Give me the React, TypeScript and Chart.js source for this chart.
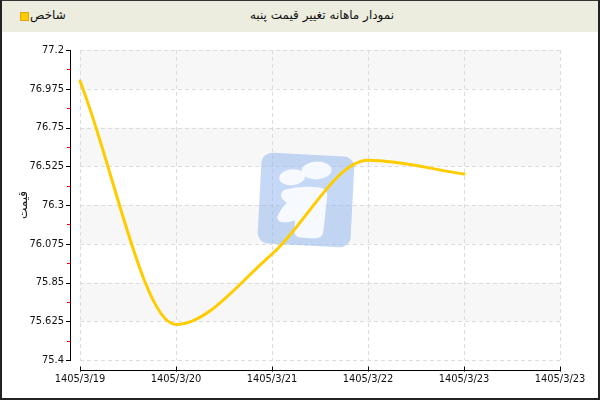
import React, { useEffect, useRef } from "react";
import { Chart, registerables } from "chart.js";
Chart.register(...registerables);

const categories = ["1405/3/19", "1405/3/20", "1405/3/21", "1405/3/22", "1405/3/23", "1405/3/23"];
const priceValues = [77.02, 75.606, 76.015, 76.56, 76.48];
const yTickValues = [75.4, 75.625, 75.85, 76.075, 76.3, 76.525, 76.75, 76.975, 77.2];
const chartTitle = "نمودار ماهانه تغییر قیمت پنبه";
const seriesName = "شاخص";
const yAxisTitle = "قیمت";

const LABEL_FONT = "'DejaVu Sans Condensed', 'DejaVu Sans', sans-serif";
const FA_FONT = "'DejaVu Sans', sans-serif";

const backgroundPlugin = {
  id: "bgDecor",
  beforeDatasetsDraw(chart: any) {
    const { ctx, chartArea, scales } = chart;
    const y = scales.y;
    const x = scales.x;
    const { left, right, top, bottom } = chartArea;
    ctx.save();
    // alternating bands
    const desc = [...yTickValues].sort((a, b) => b - a);
    for (let i = 0; i < desc.length - 1; i++) {
      if (i % 2 === 0) {
        const y1 = y.getPixelForValue(desc[i]);
        const y2 = y.getPixelForValue(desc[i + 1]);
        ctx.fillStyle = "#F7F7F7";
        ctx.fillRect(left, y1, right - left, y2 - y1);
      }
    }
    // dashed grid
    ctx.strokeStyle = "#DCDCDC";
    ctx.lineWidth = 1;
    ctx.setLineDash([4, 3]);
    for (const v of yTickValues) {
      const py = Math.round(y.getPixelForValue(v)) + 0.5;
      ctx.beginPath();
      ctx.moveTo(left, py);
      ctx.lineTo(right, py);
      ctx.stroke();
    }
    for (let i = 0; i < categories.length; i++) {
      const px = Math.round(x.getPixelForTick(i)) + 0.5;
      ctx.beginPath();
      ctx.moveTo(px, top);
      ctx.lineTo(px, bottom);
      ctx.stroke();
    }
    ctx.setLineDash([]);

    // watermark logo
    const cx = (left + right) / 2 - 14;
    const cy = (top + bottom) / 2 - 5;
    ctx.translate(cx, cy);
    ctx.rotate((3 * Math.PI) / 180);
    ctx.fillStyle = "rgba(140, 178, 238, 0.5)";
    const w = 93, h = 91, r = 11;
    ctx.beginPath();
    ctx.roundRect(-w / 2, -h / 2, w, h, r);
    ctx.fill();
    ctx.fillStyle = "rgba(255, 255, 255, 0.85)";
    ctx.beginPath();
    ctx.ellipse(-15, -22, 13, 8, -0.15, 0, Math.PI * 2);
    ctx.fill();
    ctx.beginPath();
    ctx.ellipse(9, -30, 15, 9, -0.1, 0, Math.PI * 2);
    ctx.fill();
    ctx.beginPath();
    ctx.moveTo(-22, -9);
    ctx.quadraticCurveTo(-5, -15, 14, -13);
    ctx.quadraticCurveTo(21, -12, 21, -5);
    ctx.lineTo(19, 31);
    ctx.quadraticCurveTo(18, 38, 9, 38);
    ctx.lineTo(-2, 38);
    ctx.quadraticCurveTo(-10, 38, -10, 31);
    ctx.lineTo(-10, 21);
    ctx.quadraticCurveTo(-26, 27, -28, 19);
    ctx.quadraticCurveTo(-24, 8, -19, 4);
    ctx.quadraticCurveTo(-30, -3, -22, -9);
    ctx.closePath();
    ctx.fill();
    ctx.restore();
  },
  afterDraw(chart: any) {
    const { ctx, chartArea, scales } = chart;
    const y = scales.y;
    const x = scales.x;
    const { left, right, top, bottom } = chartArea;
    ctx.save();
    ctx.lineWidth = 1;
    // y axis line
    const ax = left - 10 + 0.5;
    ctx.strokeStyle = "#000000";
    ctx.beginPath();
    ctx.moveTo(ax, top);
    ctx.lineTo(ax, bottom + 1);
    ctx.stroke();
    for (let i = 0; i < yTickValues.length; i++) {
      const py = Math.round(y.getPixelForValue(yTickValues[i])) + 0.5;
      ctx.strokeStyle = "#000000";
      ctx.beginPath();
      ctx.moveTo(ax - 4.5, py);
      ctx.lineTo(ax, py);
      ctx.stroke();
      if (i < yTickValues.length - 1) {
        const mid = (yTickValues[i] + yTickValues[i + 1]) / 2;
        const pm = Math.round(y.getPixelForValue(mid)) + 0.5;
        ctx.strokeStyle = "#FF0000";
        ctx.beginPath();
        ctx.moveTo(ax - 3.5, pm);
        ctx.lineTo(ax, pm);
        ctx.stroke();
      }
    }
    // x axis line
    const ay = bottom + 10 + 0.5;
    ctx.strokeStyle = "#000000";
    ctx.beginPath();
    ctx.moveTo(left, ay);
    ctx.lineTo(right + 1, ay);
    ctx.stroke();
    for (let i = 0; i < categories.length; i++) {
      const px = Math.round(x.getPixelForTick(i)) + 0.5;
      ctx.beginPath();
      ctx.moveTo(px, ay - 4);
      ctx.lineTo(px, ay + 1);
      ctx.stroke();
    }
    ctx.restore();
  },
};

export default function App() {
  const canvasRef = useRef<HTMLCanvasElement | null>(null);

  useEffect(() => {
    if (!canvasRef.current) return;
    const chart = new Chart(canvasRef.current, {
      type: "line",
      data: {
        labels: categories,
        datasets: [
          {
            label: seriesName,
            data: priceValues,
            borderColor: "#FFCC00",
            backgroundColor: "#FFCC00",
            borderWidth: 3,
            pointRadius: 0,
            pointHoverRadius: 0,
            cubicInterpolationMode: "monotone",
            fill: false,
            borderCapStyle: "round",
            borderJoinStyle: "round",
          },
        ],
      },
      options: {
        animation: false,
        responsive: false,
        maintainAspectRatio: false,
        layout: { padding: { top: 50, right: 40, left: 0, bottom: 0 } },
        plugins: {
          legend: { display: false },
          title: { display: false },
          tooltip: { enabled: false },
        },
        scales: {
          x: {
            type: "category",
            offset: false,
            grid: { display: false, drawTicks: false },
            border: { display: false },
            ticks: {
              color: "#111111",
              font: { family: LABEL_FONT, size: 11 },
              padding: 13,
              maxRotation: 0,
              autoSkip: false,
            },
            afterFit(scale: any) {
              scale.height = 40;
            },
          },
          y: {
            min: 75.4,
            max: 77.2,
            grid: { display: false, drawTicks: false },
            border: { display: false },
            afterBuildTicks(scale: any) {
              scale.ticks = yTickValues.map((v) => ({ value: v }));
            },
            ticks: {
              color: "#111111",
              font: { family: LABEL_FONT, size: 11 },
              padding: 16,
              callback: (v: any) => String(v),
            },
            title: {
              display: true,
              text: yAxisTitle,
              color: "#111111",
              font: { family: FA_FONT, size: 12 },
              padding: { top: 17, bottom: 0 },
            },
            afterFit(scale: any) {
              scale.width = 80;
            },
          },
        },
      },
      plugins: [backgroundPlugin],
    });
    return () => chart.destroy();
  }, []);

  return (
    <div
      style={{
        position: "fixed",
        left: 0,
        top: 0,
        width: 600,
        height: 400,
        background: "#FFFFFF",
        overflow: "hidden",
      }}
    >
      <canvas
        ref={canvasRef}
        width={600}
        height={400}
        style={{ position: "absolute", left: 0, top: 0, width: 600, height: 400 }}
      />
      <div
        style={{
          position: "absolute",
          left: 0,
          top: 0,
          width: 600,
          height: 32,
          background: "#EDEDDF",
          fontFamily: FA_FONT,
          fontSize: 12,
          color: "#111111",
        }}
      >
        <div
          dir="rtl"
          style={{
            position: "absolute",
            left: 200,
            width: 244,
            top: 8,
            textAlign: "center",
            whiteSpace: "nowrap",
          }}
        >
          {chartTitle}
        </div>
        <div
          style={{
            position: "absolute",
            left: 20,
            top: 8,
            display: "flex",
            alignItems: "center",
            gap: 1,
          }}
        >
          <span
            style={{
              display: "inline-block",
              width: 7,
              height: 7,
              background: "#FFCC00",
              border: "0.5px solid #E0A800",
              marginTop: 2,
            }}
          />
          <span dir="rtl">{seriesName}</span>
        </div>
      </div>
      <div
        style={{
          position: "absolute",
          left: 0,
          top: 0,
          width: 600,
          height: 400,
          boxSizing: "border-box",
          borderTop: "1px solid #333333",
          borderLeft: "2px solid #222222",
          borderRight: "2px solid #222222",
          borderBottom: "2px solid #222222",
          pointerEvents: "none",
        }}
      />
    </div>
  );
}
